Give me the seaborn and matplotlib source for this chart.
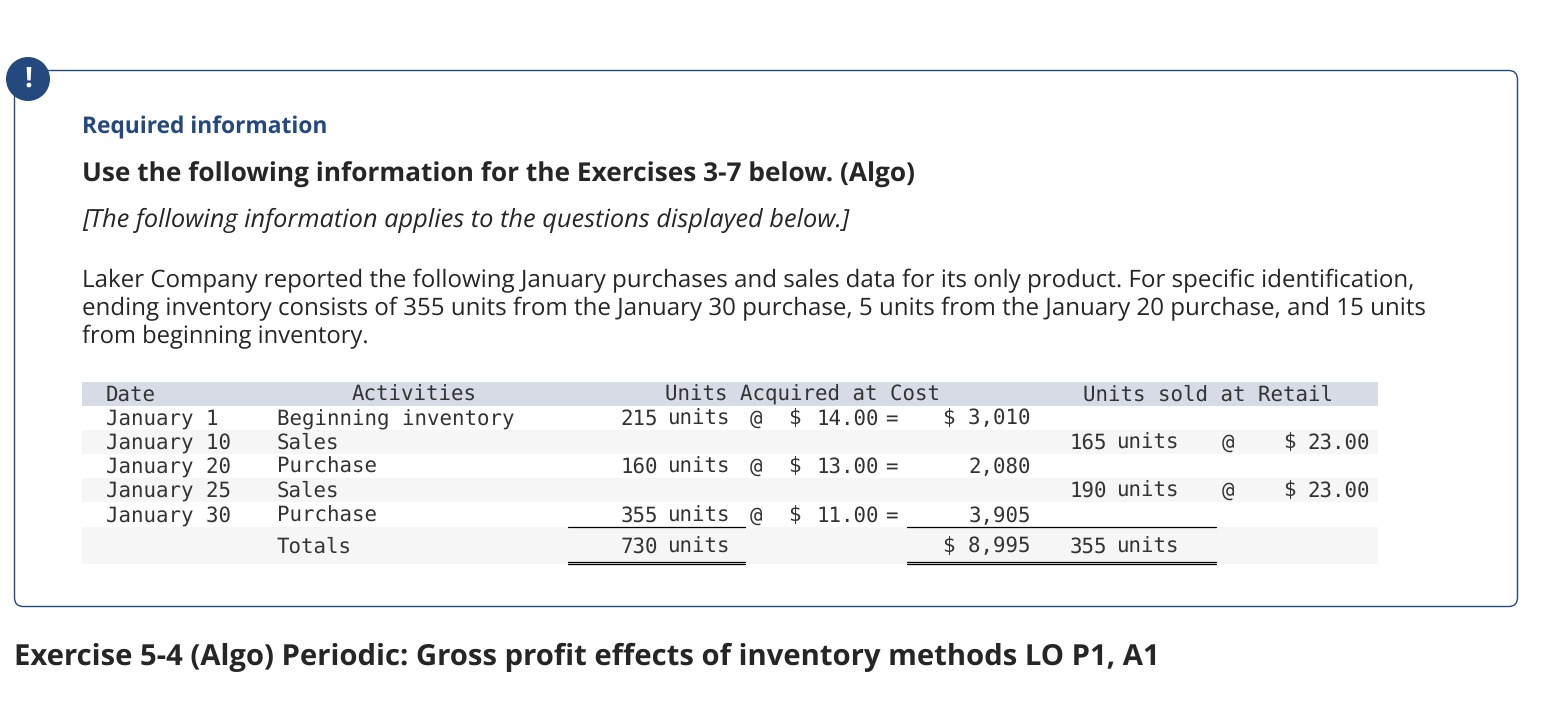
import matplotlib
matplotlib.use('Agg')
import matplotlib.pyplot as plt
from matplotlib.patches import FancyBboxPatch, Circle
import seaborn as sns

# Datos de la tabla
dates = ['January 1', 'January 10', 'January 20', 'January 25', 'January 30', '']
activities = ['Beginning inventory', 'Sales', 'Purchase', 'Sales', 'Purchase', 'Totals']
acq_units = ['215', '', '160', '', '355', '730']
acq_costs = ['14.00', '', '13.00', '', '11.00', '']
acq_totals = ['$ 3,010', '', '2,080', '', '3,905', '$ 8,995']
sold_units = ['', '165', '', '190', '', '355']
sold_prices = ['', '23.00', '', '23.00', '', '']
row_names = ['header', 'r1', 'r2', 'r3', 'r4', 'r5', 'totals']
row_shades = ['#d7dbe6', '#ffffff', '#f6f6f6', '#ffffff', '#f6f6f6', '#ffffff', '#f6f6f6']

BLUE = '#24497f'
DARK = '#262626'
MONO = '#333333'
SANS = 'Open Sans'

sns.set_theme(style='white')
plt.rcParams['font.family'] = ['DejaVu Sans']
plt.rcParams['text.hinting'] = 'no_hinting'

fig = plt.figure(figsize=(15.56, 7.26), dpi=100, facecolor='white')
ax = fig.add_axes([0, 0, 1, 1])
ax.set_xlim(0, 1556)
ax.set_ylim(726, 0)
ax.axis('off')

# Caja redondeada y circulo
ax.add_patch(FancyBboxPatch((14.5, 70.5), 1503, 536, boxstyle='round,pad=0,rounding_size=9',
                            fc='white', ec=BLUE, lw=1))
ax.add_patch(Circle((28, 79), 22, fc=BLUE, ec='none', zorder=3))
ax.text(28, 88, '!', color='white', fontsize=20, fontweight='bold', family=SANS,
        ha='center', va='baseline', zorder=4)

ax.text(82, 133.5, 'Required information', color=BLUE, fontsize=16.35, fontweight='bold',
        family=SANS, va='baseline')
ax.text(82, 182, 'Use the following information for the Exercises 3-7 below. (Algo)', color=DARK,
        fontsize=18.95, fontweight='bold', family=SANS, va='baseline')
ax.text(82, 227, '[The following information applies to the questions displayed below.]', color=DARK,
        fontsize=18.25, style='italic', family=SANS, va='baseline')
ax.text(82, 287, 'Laker Company reported the following January purchases and sales data for its only product. For specific identification,',
        color=DARK, fontsize=17.33, family=SANS, va='baseline')
ax.text(82, 315, 'ending inventory consists of 355 units from the January 30 purchase, 5 units from the January 20 purchase, and 15 units',
        color=DARK, fontsize=17.36, family=SANS, va='baseline')
ax.text(82, 343, 'from beginning inventory.', color=DARK, fontsize=17.1, family=SANS, va='baseline')
ax.text(14, 665, 'Exercise 5-4 (Algo) Periodic: Gross profit effects of inventory methods LO P1, A1',
        color=DARK, fontsize=21.1, fontweight='bold', family=SANS, va='baseline')

# Bandas de la tabla con seaborn
left, right, top, bottom = 82, 1378, 382, 564
row_edges = [382, 406, 430, 454, 478, 502, 527, 564]
tab = fig.add_axes([left / 1556, 1 - bottom / 726, (right - left) / 1556, (bottom - top) / 726])
sns.barplot(x=[1] * len(row_names), y=row_names, hue=row_names, palette=row_shades, orient='y',
            width=1, legend=False, ax=tab, saturation=1)
for patch, y0, y1 in zip(tab.patches, row_edges[:-1], row_edges[1:]):
    patch.set_y(y0)
    patch.set_height(y1 - y0)
    patch.set_linewidth(0)
tab.set_xlim(0, 1)
tab.set_ylim(bottom, top)
tab.axis('off')
tab.patch.set_alpha(0)
ax.set_zorder(2)
ax.patch.set_alpha(0)
tab.set_zorder(3)

# Texto de la tabla en una capa encima
txt = fig.add_axes([0, 0, 1, 1])
txt.set_xlim(0, 1556)
txt.set_ylim(726, 0)
txt.axis('off')
txt.set_zorder(4)

def mono(x, y, s, ha='left'):
    txt.text(x, y, s, family='DejaVu Sans Mono', fontsize=14.95, color=MONO, ha=ha, va='baseline')

mono(106, 401, 'Date')
mono(414, 401, 'Activities', ha='center')
mono(803, 401, 'Units Acquired at Cost', ha='center')
mono(1208, 401, 'Units sold at Retail', ha='center')

baselines = [425, 449, 473, 497, 522, 553]
for i, y in enumerate(baselines):
    mono(106, y, dates[i])
    mono(277, y, activities[i])
    if acq_units[i]:
        mono(658, y, acq_units[i], ha='right')
        mono(667, y, 'units')
    if acq_costs[i]:
        mono(750, y, '@')
        mono(788, y, '$')
        mono(879, y, acq_costs[i], ha='right')
        mono(885, y, '=')
    if acq_totals[i]:
        mono(1031, y, acq_totals[i], ha='right')
    if sold_units[i]:
        mono(1070, y, sold_units[i])
        mono(1116, y, 'units')
    if sold_prices[i]:
        mono(1222, y, '@')
        mono(1283, y, '$')
        mono(1370, y, sold_prices[i], ha='right')

# Lineas de totales
for x0, x1 in [(568, 745), (907, 1216)]:
    txt.plot([x0, x1], [526.5, 526.5], color='black', lw=0.9)
    txt.plot([x0, x1], [561.5, 561.5], color='black', lw=0.9)
    txt.plot([x0, x1], [564, 564], color='black', lw=0.9)
txt.set_xlim(0, 1556)
txt.set_ylim(726, 0)

plt.savefig('out.png', dpi=100)
